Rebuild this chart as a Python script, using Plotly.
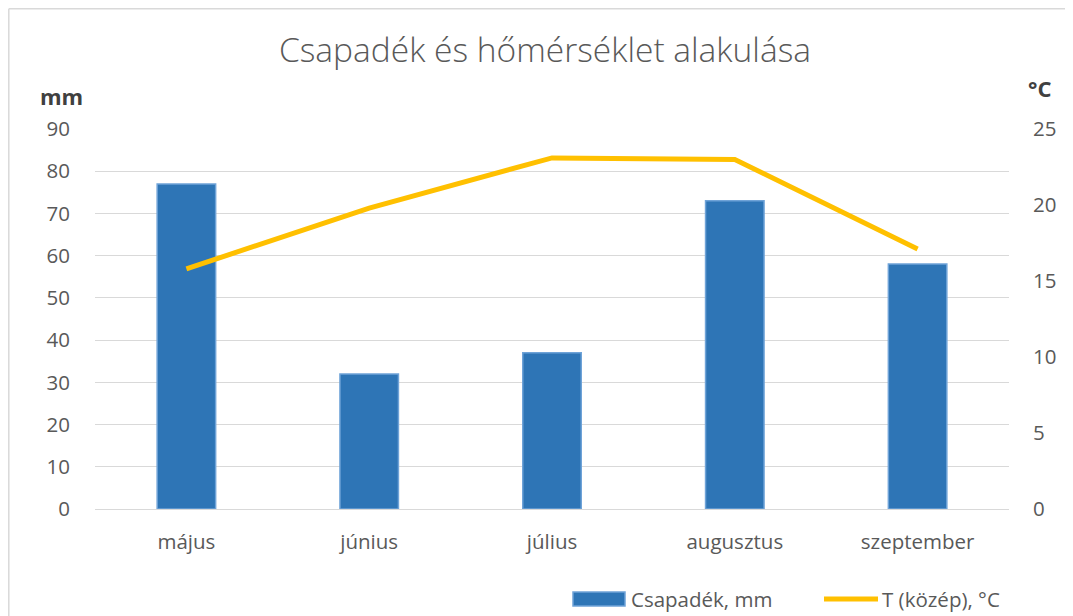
import plotly.graph_objects as go

months = ["május", "június", "július", "augusztus", "szeptember"]
precip_mm = [77, 32, 37, 73, 58]
temp_c = [15.8, 19.8, 23.1, 23.0, 17.1]
left_ticks = [0, 10, 20, 30, 40, 50, 60, 70, 80, 90]
right_ticks = [0, 5, 10, 15, 20, 25]
series_names = ["Csapadék, mm", "T (közép), °C"]

FONT = "Open Sans"
GREY = "#595959"
BAR_C = "#2E75B6"
BAR_EDGE = "#6FA3D8"
LINE_C = "#FFC000"
BORDER = "#D9D9D9"

fig = go.Figure()
fig.add_trace(go.Bar(
    x=months, y=precip_mm, name=series_names[0],
    marker=dict(color=BAR_C, line=dict(color=BAR_EDGE, width=1.5)),
    width=0.32, yaxis="y", showlegend=False,
))
fig.add_trace(go.Scatter(
    x=months, y=temp_c, name=series_names[1], mode="lines",
    line=dict(color=LINE_C, width=5), yaxis="y2", showlegend=False,
))

# page offset (browser body margin)
OFF = 8
PAGE_W, PAGE_H = 1073, 616
W, H = PAGE_W - OFF, PAGE_H - OFF
# plot area in page pixels
L, R, T, B = 95, 1009, 129, 509


def px(x):
    return (x - L) / (R - L)


def py(y):
    return (B - y) / (B - T)


TF = dict(size=20.5, color=GREY, family=FONT)

fig.update_layout(
    width=W, height=H,
    margin=dict(l=L - OFF, r=(PAGE_W - R), t=T - OFF, b=(PAGE_H - B),
                pad=0, autoexpand=False),
    paper_bgcolor="white", plot_bgcolor="white",
    font=dict(family=FONT, color=GREY, size=20.5),
    title=dict(text="Csapadék és hőmérséklet alakulása", x=(545 - OFF) / W, xanchor="center",
               xref="container", y=1 - (50 - OFF) / H, yanchor="middle", yref="container",
               font=dict(size=33.5, color=GREY, family=FONT, weight=300)),
    showlegend=False,
    xaxis=dict(showgrid=False, showline=True, linecolor="#D9D9D9", linewidth=1,
               ticks="", tickfont=TF, ticklabelstandoff=14, automargin=False),
    yaxis=dict(range=[0, 90], tickvals=left_ticks, showgrid=True, gridcolor="#D9D9D9",
               gridwidth=1, zeroline=False, showline=False, ticks="",
               tickfont=TF, ticklabelstandoff=24, automargin=False),
    yaxis2=dict(range=[0, 25], tickvals=right_ticks, overlaying="y", side="right",
                showgrid=False, zeroline=False, showline=False, ticks="",
                tickfont=TF, ticklabelstandoff=23, automargin=False),
    shapes=[
        # chart border (top and left edges visible)
        dict(type="line", xref="paper", yref="paper",
             x0=px(OFF + 0.8), x1=px(PAGE_W), y0=py(OFF + 0.8), y1=py(OFF + 0.8),
             line=dict(color=BORDER, width=1.5), layer="below"),
        dict(type="line", xref="paper", yref="paper",
             x0=px(OFF + 0.8), x1=px(OFF + 0.8), y0=py(OFF + 0.8), y1=py(PAGE_H),
             line=dict(color=BORDER, width=1.5), layer="below"),
        # legend symbols
        dict(type="rect", xref="paper", yref="paper",
             x0=px(573), x1=px(625), y0=py(606), y1=py(592),
             fillcolor=BAR_C, line=dict(color=BAR_EDGE, width=1.5)),
        dict(type="line", xref="paper", yref="paper",
             x0=px(824), x1=px(878), y0=py(599), y1=py(599),
             line=dict(color=LINE_C, width=5)),
    ],
    annotations=[
        dict(text="<b>mm</b>", xref="paper", yref="paper", x=px(61), y=py(96),
             xanchor="center", yanchor="middle", showarrow=False,
             font=dict(size=22, color="#404040", family=FONT)),
        dict(text="<b>°C</b>", xref="paper", yref="paper", x=px(1039), y=py(88),
             xanchor="center", yanchor="middle", showarrow=False,
             font=dict(size=22, color="#404040", family=FONT)),
        dict(text=series_names[0], xref="paper", yref="paper", x=px(629), y=py(599),
             xanchor="left", yanchor="middle", showarrow=False, font=TF),
        dict(text=series_names[1], xref="paper", yref="paper", x=px(880), y=py(599),
             xanchor="left", yanchor="middle", showarrow=False, font=TF),
    ],
)

fig.write_html("out.html")
